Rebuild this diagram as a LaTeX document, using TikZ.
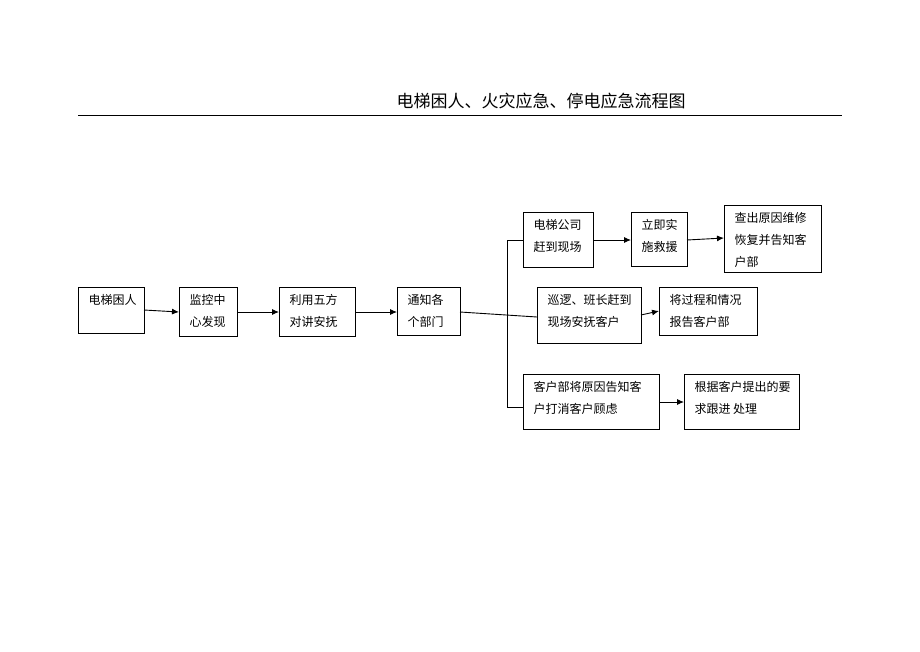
\documentclass[tikz,border=0pt]{standalone}
\usepackage{fontspec}
\setmainfont{Noto Sans CJK SC}
\usetikzlibrary{arrows.meta}
\begin{document}
\begin{tikzpicture}[x=1pt,y=-1pt,
 bx/.style={draw,line width=0.8pt,inner sep=0pt},
 tx/.style={font=\fontsize{12}{22}\selectfont,align=left,anchor=north west},
 ar/.style={-{Latex[length=7pt,width=6pt]},line width=0.9pt},
 ln/.style={line width=0.9pt}]
\useasboundingbox (0,0) rectangle (920,651);
\node (title) at (541,101) {\fontsize{17}{19}\selectfont 电梯困人、火灾应急、停电应急流程图};
\draw[line width=0.6pt] (78,115) -- (842,115);
\newcommand{\mybox}[6]{\draw[bx] (#2,#3) rectangle (#4,#5); \node[tx] (#1) at (#2+7,#3+4) {#6};}
\mybox{a}{78}{287}{144}{333}{电梯困人}
\mybox{b}{179}{287}{237}{336}{监控中\\心发现}
\mybox{c}{279}{287}{355}{336}{利用五方\\对讲安抚}
\mybox{d}{397}{287}{460}{335}{通知各\\个部门}
\mybox{e}{523}{212}{593}{267}{电梯公司\\赶到现场}
\mybox{f}{631}{212}{687}{266}{立即实\\施救援}
\mybox{g}{724}{205}{821}{272}{查出原因维修\\恢复并告知客\\户部}
\mybox{h}{537}{287}{641}{343}{巡逻、班长赶到\\现场安抚客户}
\mybox{i}{659}{287}{757}{335}{将过程和情况\\报告客户部}
\mybox{j}{523}{374}{659}{429}{客户部将原因告知客\\户打消客户顾虑}
\mybox{k}{684}{374}{799}{429}{根据客户提出的要\\求跟进 处理}
\draw[ar] (144,310) -- (179,312);
\draw[ar] (237,312) -- (279,312);
\draw[ar] (355,312) -- (397,312);
\draw[ln] (460,312) -- (537,317);
\coordinate (t) at (507,240); \coordinate (u) at (507,407);
\draw[ln] (523,240) -- (t) -- (u) -- (523,407);
\draw[ar] (593,240) -- (631,240);
\draw[ar] (687,240) -- (724,238);
\draw[ar] (641,315) -- (659,311);
\draw[ar] (659,402) -- (684,402);
\end{tikzpicture}
\end{document}
